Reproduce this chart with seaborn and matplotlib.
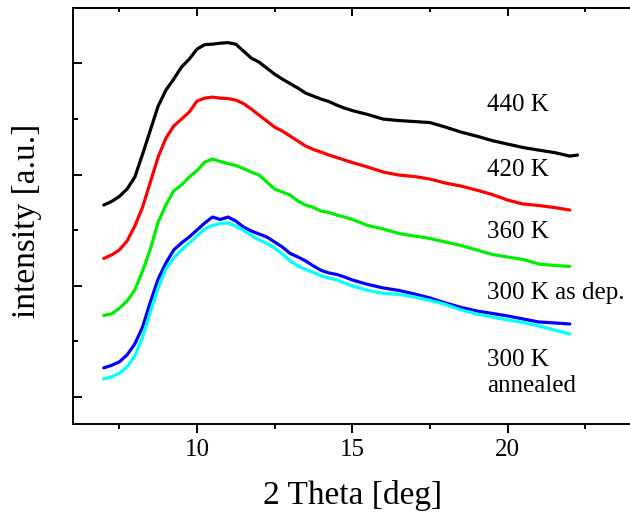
import matplotlib
matplotlib.use('Agg')
import matplotlib.pyplot as plt
import seaborn as sns
import pandas as pd
from matplotlib.ticker import MultipleLocator

# 2 Theta positions (deg)
two_theta = [7.0, 7.25, 7.5, 7.75, 8.0, 8.25, 8.5, 8.75, 9.0, 9.25, 9.5, 9.75,
             10.0, 10.25, 10.5, 10.75, 11.0, 11.25, 11.5, 11.75, 12.0, 12.25, 12.5, 12.75,
             13.0, 13.25, 13.5, 13.75, 14.0, 14.25, 14.5, 14.75, 15.0,
             15.5, 16.0, 16.5, 17.0, 17.5, 18.0, 18.5, 19.0, 19.5, 20.0, 20.5, 21.0, 21.5, 22.0]
two_theta_440 = two_theta + [22.25]

# intensities (a.u., curves stacked with offsets as in the figure)
i_440 = [1725, 1757, 1802, 1869, 1977, 2184, 2400, 2616, 2760, 2859, 2967, 3039,
         3129, 3170, 3174, 3183, 3188, 3174, 3111, 3048, 3012, 2958, 2904, 2859,
         2819, 2778, 2733, 2706, 2679, 2657, 2625, 2598, 2576,
         2540, 2499, 2486, 2477, 2468, 2427, 2382, 2346, 2306, 2274, 2243, 2220, 2198, 2166, 2175]
i_420 = [1244, 1275, 1320, 1401, 1536, 1707, 1932, 2157, 2328, 2436, 2499, 2562,
         2661, 2688, 2697, 2688, 2684, 2670, 2639, 2589, 2535, 2481, 2427, 2391,
         2346, 2301, 2256, 2225, 2202, 2175, 2153, 2130, 2108,
         2067, 2022, 1995, 1982, 1959, 1923, 1896, 1860, 1820, 1770, 1734, 1721, 1703, 1680]
i_360 = [731, 744, 794, 861, 960, 1131, 1329, 1572, 1725, 1851, 1905, 1977,
         2036, 2112, 2139, 2117, 2099, 2081, 2054, 2022, 1995, 1932, 1869, 1842,
         1815, 1761, 1725, 1703, 1671, 1658, 1635, 1617, 1595,
         1541, 1509, 1469, 1446, 1424, 1392, 1361, 1320, 1280, 1257, 1235, 1194, 1181, 1172]
i_300_dep = [258, 281, 312, 375, 474, 627, 852, 1059, 1203, 1320, 1383, 1437,
             1500, 1563, 1617, 1595, 1617, 1581, 1527, 1491, 1464, 1437, 1392, 1347,
             1289, 1257, 1221, 1176, 1136, 1113, 1100, 1077, 1050,
             1010, 978, 956, 924, 888, 843, 803, 771, 749, 726, 699, 672, 663, 654]
i_300_ann = [159, 177, 209, 267, 366, 537, 762, 978, 1149, 1248, 1320, 1383,
             1446, 1509, 1541, 1559, 1563, 1536, 1496, 1451, 1410, 1379, 1338, 1284,
             1221, 1176, 1145, 1118, 1086, 1068, 1050, 1023, 996,
             956, 929, 920, 897, 866, 830, 780, 744, 717, 690, 668, 636, 600, 564]

samples = ['440 K', '420 K', '360 K', '300 K as dep.', '300 K annealed']
colors = {'440 K': 'black', '420 K': '#ff0000', '360 K': '#00ee00',
          '300 K as dep.': '#0000ff', '300 K annealed': '#00ffff'}

series = [('440 K', two_theta_440, i_440), ('420 K', two_theta, i_420),
          ('360 K', two_theta, i_360), ('300 K as dep.', two_theta, i_300_dep),
          ('300 K annealed', two_theta, i_300_ann)]
df = pd.concat([pd.DataFrame({'two_theta': x, 'intensity': y, 'sample': name})
                for name, x, y in series], ignore_index=True)

sns.set_theme(style='ticks', rc={'axes.edgecolor': 'black', 'xtick.color': 'black',
                                 'ytick.color': 'black', 'text.color': 'black',
                                 'axes.labelcolor': 'black'})
plt.rcParams['font.family'] = ['Liberation Serif', 'DejaVu Serif']

fig = plt.figure(figsize=(6.3, 5.15), dpi=100)
ax = fig.add_axes([0.1154, 0.1761, 0.8876, 0.8084])

sns.lineplot(data=df, x='two_theta', y='intensity', hue='sample', hue_order=samples,
             palette=colors, linewidth=2.3, legend=False, estimator=None, sort=False, ax=ax)

ax.set_xlim(6, 24)
ax.set_ylim(-250, 3500)
ax.xaxis.set_major_locator(MultipleLocator(5))
ax.xaxis.set_minor_locator(MultipleLocator(2.5))
ax.yaxis.set_major_locator(MultipleLocator(1000))
ax.yaxis.set_minor_locator(MultipleLocator(500))

ax.tick_params(axis='x', which='major', direction='out', length=6.5, width=1.4, labelsize=18, pad=4)
ax.tick_params(axis='x', which='minor', direction='out', length=3.6, width=1.4)
ax.tick_params(axis='y', which='major', direction='in', length=6.5, width=1.4, labelleft=False)
ax.tick_params(axis='y', which='minor', direction='in', length=3.6, width=1.4)
for side in ['left', 'bottom', 'top']:
    ax.spines[side].set_linewidth(1.4)
ax.spines['top'].set_visible(True)
ax.spines['right'].set_visible(False)

# top axis: inward ticks, no labels
top = ax.secondary_xaxis('top')
top.xaxis.set_major_locator(MultipleLocator(5))
top.xaxis.set_minor_locator(MultipleLocator(2.5))
top.tick_params(which='major', direction='in', length=6, width=1.4, labeltop=False)
top.tick_params(which='minor', direction='in', length=3, width=1.4)
top.spines['top'].set_linewidth(1.4)

ax.set_xlabel('2 Theta [deg]', fontsize=24)
ax.xaxis.set_label_coords(0.501, -0.134)
ax.set_ylabel('intensity [a.u.]', fontsize=24)
ax.yaxis.set_label_coords(-0.055, 0.488)

# curve labels
ax.text(19.33, 2625, '440 K', fontsize=18, ha='left', va='center')
ax.text(19.33, 2040, '420 K', fontsize=18, ha='left', va='center')
ax.text(19.33, 1482, '360 K', fontsize=18, ha='left', va='center')
ax.text(19.33, 930, '300 K as dep.', fontsize=18, ha='left', va='center')
ax.text(19.33, 213, '300 K\nannealed', fontsize=18, ha='left', va='center', linespacing=1.2)

fig.savefig('out.png', dpi=100)
